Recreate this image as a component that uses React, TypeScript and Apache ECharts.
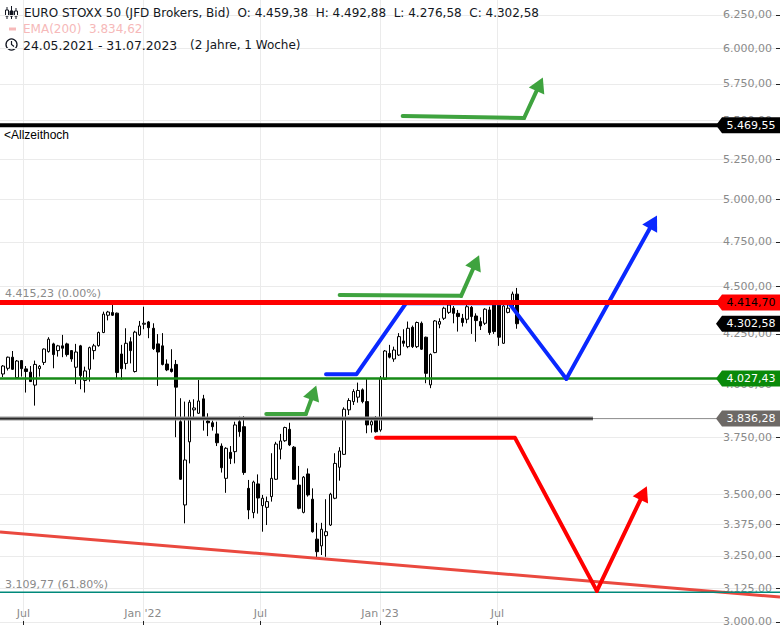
import React, { useEffect, useRef } from 'react';
import * as echarts from 'echarts';

// ---------- data ----------
const FIRST_WEEK = '2021-05-31';
const candleOpen = [4049, 4077, 4132, 4031, 4115, 4074, 4058, 3995, 4075, 4106, 4160, 4199, 4165, 4189, 4199, 4165, 4082, 4189, 4017, 4072, 4165, 4190, 4257, 4347, 4361, 4358, 4148, 4101, 4210, 4061, 4245, 4300, 4312, 4279, 4199, 4189, 4098, 4074, 4096, 3822, 3456, 3730, 3877, 3861, 3929, 3825, 3817, 3766, 3711, 3569, 3683, 3686, 3822, 3799, 3526, 3424, 3545, 3453, 3446, 3491, 3565, 3697, 3735, 3787, 3706, 3540, 3425, 3588, 3480, 3316, 3289, 3330, 3373, 3484, 3617, 3674, 3877, 3916, 3937, 3972, 3916, 3807, 3838, 3784, 4023, 4151, 4123, 4143, 4214, 4185, 4284, 4185, 4305, 4233, 3996, 4155, 4300, 4331, 4362, 4384, 4357, 4331, 4326, 4389, 4343, 4314, 4305, 4375, 4401, 4407, 4202, 4362, 4384, 4459.38];
const candleClose = [4088, 4132, 4072, 4113, 4075, 4061, 4012, 4096, 4087, 4173, 4223, 4145, 4189, 4177, 4145, 4123, 4158, 4041, 4064, 4180, 4189, 4257, 4353, 4364, 4347, 4056, 4075, 4202, 4165, 4259, 4291, 4305, 4282, 4175, 4158, 4096, 4069, 4061, 3985, 3565, 3649, 3913, 3886, 3919, 3833, 3817, 3799, 3726, 3615, 3701, 3656, 3807, 3776, 3594, 3435, 3553, 3485, 3484, 3470, 3569, 3720, 3734, 3795, 3716, 3565, 3442, 3574, 3498, 3346, 3266, 3356, 3346, 3501, 3634, 3689, 3880, 3921, 3964, 3969, 3916, 3807, 3822, 3776, 4028, 4163, 4132, 4168, 4236, 4202, 4279, 4185, 4309, 4172, 4052, 4146, 4317, 4314, 4384, 4401, 4357, 4340, 4309, 4392, 4340, 4319, 4291, 4379, 4257, 4262, 4233, 4396, 4384, 4460, 4302.58];
const candleLow = [4034, 4066, 4069, 4026, 4036, 3959, 4010, 3897, 4036, 4093, 4155, 4077, 4135, 4132, 4135, 4109, 4000, 3975, 3959, 4012, 4121, 4185, 4254, 4320, 4343, 4028, 4020, 4072, 4101, 4056, 4240, 4274, 4228, 4168, 3991, 4091, 4063, 4056, 3751, 3562, 3380, 3634, 3833, 3858, 3781, 3756, 3781, 3711, 3594, 3507, 3631, 3634, 3753, 3584, 3397, 3401, 3420, 3346, 3373, 3470, 3562, 3652, 3730, 3711, 3562, 3438, 3421, 3491, 3342, 3246, 3253, 3246, 3369, 3480, 3559, 3671, 3853, 3900, 3911, 3908, 3769, 3772, 3772, 3776, 4020, 4126, 4109, 4138, 4185, 4177, 4178, 4178, 4168, 4004, 3980, 4152, 4279, 4322, 4354, 4305, 4262, 4288, 4305, 4250, 4210, 4270, 4296, 4245, 4250, 4189, 4199, 4357, 4375, 4276.58];
const candleHigh = [4093, 4135, 4163, 4118, 4118, 4088, 4088, 4115, 4093, 4176, 4233, 4205, 4194, 4245, 4205, 4168, 4199, 4194, 4085, 4185, 4199, 4262, 4366, 4370, 4413, 4361, 4194, 4279, 4233, 4266, 4317, 4392, 4317, 4305, 4249, 4254, 4121, 4172, 4118, 3932, 3916, 3924, 3927, 4020, 3948, 3861, 3827, 3822, 3723, 3706, 3711, 3822, 3845, 3848, 3562, 3559, 3586, 3498, 3491, 3679, 3730, 3766, 3799, 3817, 3711, 3623, 3579, 3612, 3526, 3382, 3382, 3480, 3507, 3679, 3706, 3889, 3932, 3975, 4007, 3979, 4028, 3838, 3848, 4039, 4168, 4194, 4185, 4254, 4274, 4314, 4293, 4314, 4314, 4236, 4151, 4322, 4331, 4392, 4409, 4396, 4375, 4354, 4401, 4396, 4357, 4336, 4384, 4392, 4410, 4410, 4407, 4401, 4473, 4492.88];

const yTicks = [3000, 3125, 3250, 3375, 3500, 3750, 4000, 4250, 4500, 4750, 5000, 5250, 5500, 5750, 6000, 6250];
const xTickDates = ['2021-07-01', '2022-01-01', '2022-07-01', '2023-01-01', '2023-07-01'];
const xTickLabels = ['Jul', "Jan '22", 'Jul', "Jan '23", 'Jul'];
const X_START = '2021-05-26';
const X_END = '2024-09-08';
const Y_BOTTOM = 2989;
const Y_TOP = 6364;

const levelAllTimeHigh = 5469.55;
const levelResistance = 4414.7;
const levelLast = 4302.58;
const levelSupport = 4027.43;
const levelEma = 3836.28;
const levelEmaEnd = '2023-11-25';
const levelFib618 = 3109.77;

const trendDates = ['2021-05-26', '2024-09-08'];
const trendPrices = [3345, 3092];

const greenTopDates = ['2023-02-05', '2023-08-11', '2023-09-04'];
const greenTopPrices = [5531, 5518, 5748];
const greenMidDates = ['2022-10-31', '2023-05-06', '2023-05-29'];
const greenMidPrices = [4455, 4450, 4635];
const greenLowDates = ['2022-07-10', '2022-09-09', '2022-09-21'];
const greenLowPrices = [3858, 3858, 3959];
const blueDates = ['2022-10-10', '2022-11-26', '2023-02-10', '2023-07-19', '2023-10-15', '2024-02-26'];
const bluePrices = [4048, 4048, 4410, 4410, 4025, 4866];
const redPathDates = ['2022-12-26', '2023-07-28', '2023-12-01', '2024-02-11'];
const redPathPrices = [3748, 3748, 3115, 3506];

// ---------- helpers ----------
const DAY = 86400000;
const toT = (s: string) => Date.parse(s + 'T00:00:00Z');
const L = (p: number) => Math.log(p);
function de(v: number) {
  const s = v.toFixed(2);
  const [i, f] = s.split('.');
  return i.replace(/\B(?=(\d{3})+(?!\d))/g, '.') + ',' + f;
}

const X_MIN = toT(X_START);
const X_MAX = toT(X_END);

function hline(price: number, color: string, width: number, endDate?: string, z = 5) {
  return {
    type: 'line',
    data: [[X_MIN, L(price)], [endDate ? toT(endDate) : X_MAX, L(price)]],
    symbol: 'none',
    silent: true,
    z,
    lineStyle: { color, width },
  };
}

function arrowSeries(dates: string[], prices: number[], color: string) {
  const pts = dates.map((d, i) => [toT(d), L(prices[i])]);
  const n = pts.length;
  return {
    type: 'line',
    data: pts.slice(0, n - 1),
    symbol: 'none',
    silent: true,
    z: 8,
    lineStyle: { color, width: 4, cap: 'round', join: 'round' },
    markLine: {
      silent: true,
      z: 8,
      symbol: ['none', 'triangle'],
      symbolSize: [17, 15],
      label: { show: false },
      emphasis: { disabled: true },
      lineStyle: { color, width: 4, type: 'solid', cap: 'round' },
      data: [[{ coord: pts[n - 2] }, { coord: pts[n - 1] }]],
    },
  };
}

const TAG = 'path://M0,8L6,0L64,0L64,16L6,16Z';
function tag(price: number, bg: string, fg: string) {
  return {
    coord: [X_MAX, L(price)],
    symbol: TAG,
    symbolSize: [64, 16],
    symbolOffset: [-32, 0],
    symbolKeepAspect: false,
    itemStyle: { color: bg },
    label: {
      show: true,
      position: 'inside',
      offset: [3, 0],
      formatter: de(price),
      color: fg,
      fontSize: 11,
      fontFamily: 'DejaVu Sans',
    },
  };
}
function tagMarker(price: number, bg: string, fg: string) {
  return { silent: true, z: 50, data: [tag(price, bg, fg)] };
}

function txt(x: number, y: number, text: string, fill = '#131722', size = 12.5, family = 'DejaVu Sans') {
  return {
    type: 'text',
    x,
    y,
    silent: true,
    z: 100,
    style: { text, fill, fontSize: size, fontFamily: family, verticalAlign: 'middle', align: 'left' },
  };
}

export default function App() {
  const ref = useRef<HTMLDivElement>(null);
  useEffect(() => {
    if (!ref.current) return;
    const chart = echarts.init(ref.current, undefined, { renderer: 'svg' });
    const candles = candleOpen.map((o, i) => [
      toT(FIRST_WEEK) + i * 7 * DAY,
      L(o),
      L(candleClose[i]),
      L(candleLow[i]),
      L(candleHigh[i]),
    ]);
    const gridColor = '#ebebeb';
    const option: any = {
      animation: false,
      backgroundColor: '#ffffff',
      grid: { left: 0, right: 0, top: 0, bottom: 0, containLabel: false, outerBoundsMode: 'none' },
      xAxis: {
        type: 'value',
        min: X_MIN,
        max: X_MAX,
        position: 'bottom',
        axisLine: { show: false },
        axisTick: {
          show: true,
          inside: true,
          length: 4,
          lineStyle: { color: '#222' },
          customValues: xTickDates.map(toT),
        },
        axisLabel: {
          inside: true,
          margin: 6,
          color: '#8a8a8a',
          fontSize: 11,
          fontFamily: 'DejaVu Sans',
          customValues: xTickDates.map(toT),
          formatter: (v: number) => {
            const idx = xTickDates.map(toT).findIndex((t) => Math.abs(t - v) < DAY);
            return idx >= 0 ? xTickLabels[idx] : '';
          },
        },
        splitLine: { show: true, lineStyle: { color: gridColor, width: 1 } },
      },
      yAxis: {
        type: 'value',
        position: 'right',
        min: L(Y_BOTTOM),
        max: L(Y_TOP),
        axisLine: { show: false },
        axisTick: {
          show: true,
          inside: true,
          length: 4,
          lineStyle: { color: '#222' },
          customValues: yTicks.map(L),
        },
        axisLabel: {
          inside: true,
          margin: 8,
          color: '#8a8a8a',
          fontSize: 11,
          fontFamily: 'DejaVu Sans',
          customValues: yTicks.map(L),
          formatter: (v: number) => de(Math.round(Math.exp(v) * 100) / 100),
        },
        splitLine: { show: true, lineStyle: { color: gridColor, width: 1 } },
      },
      series: [
        {
          type: 'line',
          data: trendDates.map((d, i) => [toT(d), L(trendPrices[i])]),
          symbol: 'none',
          silent: true,
          z: 3,
          lineStyle: { color: '#e8392f', width: 3, opacity: 0.92 },
        },
        hline(levelFib618, '#00897b', 1.5, undefined, 3),
        {
          type: 'candlestick',
          data: candles,
          barWidth: 3,
          z: 4,
          silent: true,
          itemStyle: {
            color: '#ffffff',
            color0: '#000000',
            borderColor: '#000000',
            borderColor0: '#000000',
            borderWidth: 1,
          },
          markPoint: tagMarker(levelLast, '#000000', '#ffffff'),
        },
        hline(levelEma, '#8c8c8c', 1, undefined, 5),
        hline(levelEma, '#9a9a9a', 4, levelEmaEnd, 5),
        {
          ...hline(levelEma, '#2a2a2a', 1.6, levelEmaEnd, 6),
          markPoint: tagMarker(levelEma, '#6d6966', '#ffffff'),
        },
        {
          ...hline(levelSupport, '#168a16', 2.5, undefined, 6),
          markPoint: tagMarker(levelSupport, '#0a8a0a', '#ffffff'),
        },
        arrowSeries(blueDates, bluePrices, '#0a28ff'),
        {
          ...hline(levelResistance, '#ff0000', 5, undefined, 9),
          markPoint: tagMarker(levelResistance, '#ff0000', '#000000'),
        },
        {
          ...hline(levelAllTimeHigh, '#000000', 4, undefined, 9),
          markPoint: tagMarker(levelAllTimeHigh, '#000000', '#ffffff'),
        },
        arrowSeries(greenTopDates, greenTopPrices, '#3fa33f'),
        arrowSeries(greenMidDates, greenMidPrices, '#3fa33f'),
        arrowSeries(greenLowDates, greenLowPrices, '#3fa33f'),
        arrowSeries(redPathDates, redPathPrices, '#ff0000'),
      ],
      graphic: [
        // candle icon
        { type: 'line', shape: { x1: 7, y1: 7, x2: 7, y2: 19 }, style: { stroke: '#131722', lineWidth: 1 } },
        { type: 'rect', shape: { x: 5.5, y: 10, width: 3, height: 6 }, style: { fill: '#fff', stroke: '#131722', lineWidth: 1 } },
        { type: 'line', shape: { x1: 11.5, y1: 6, x2: 11.5, y2: 19 }, style: { stroke: '#131722', lineWidth: 1 } },
        { type: 'rect', shape: { x: 10, y: 11, width: 3, height: 5 }, style: { fill: '#131722', stroke: '#131722', lineWidth: 1 } },
        { type: 'line', shape: { x1: 16, y1: 8, x2: 16, y2: 19 }, style: { stroke: '#131722', lineWidth: 1 } },
        { type: 'rect', shape: { x: 14.5, y: 11, width: 3, height: 5 }, style: { fill: '#fff', stroke: '#131722', lineWidth: 1 } },
        // EMA swatch
        { type: 'line', shape: { x1: 9, y1: 29, x2: 16, y2: 29 }, style: { stroke: '#f6b9b9', lineWidth: 3 } },
        // clock icon
        { type: 'circle', shape: { cx: 11.5, cy: 44.5, r: 5.5 }, style: { fill: 'none', stroke: '#131722', lineWidth: 1.3 } },
        { type: 'polyline', shape: { points: [[11.5, 41], [11.5, 44.5], [14, 46.5]] }, style: { fill: 'none', stroke: '#131722', lineWidth: 1.2 } },
        txt(24, 13, 'EURO STOXX 50 (JFD Brokers, Bid)  O: 4.459,38  H: 4.492,88  L: 4.276,58  C: 4.302,58', '#131722', 12),
        txt(23, 29, 'EMA(200)', '#f6b9b9', 12),
        txt(89, 29, '3.834,62', '#f6b9b9', 12),
        txt(23, 45, '24.05.2021 - 31.07.2023', '#131722', 12.4),
        txt(190, 45, '(2 Jahre, 1 Woche)', '#131722', 12),
        txt(4, 135, '<Allzeithoch', '#000000', 12, 'Liberation Sans'),
        txt(5, 293, '4.415,23 (0.00%)', '#8a8a8a', 11),
        txt(5, 584, '3.109,77 (61.80%)', '#8a8a8a', 11),
      ],
    };
    chart.setOption(option);
    return () => chart.dispose();
  }, []);
  return (
    <div
      ref={ref}
      style={{ position: 'fixed', left: 0, top: 0, width: 780, height: 625, background: '#fff' }}
    />
  );
}
